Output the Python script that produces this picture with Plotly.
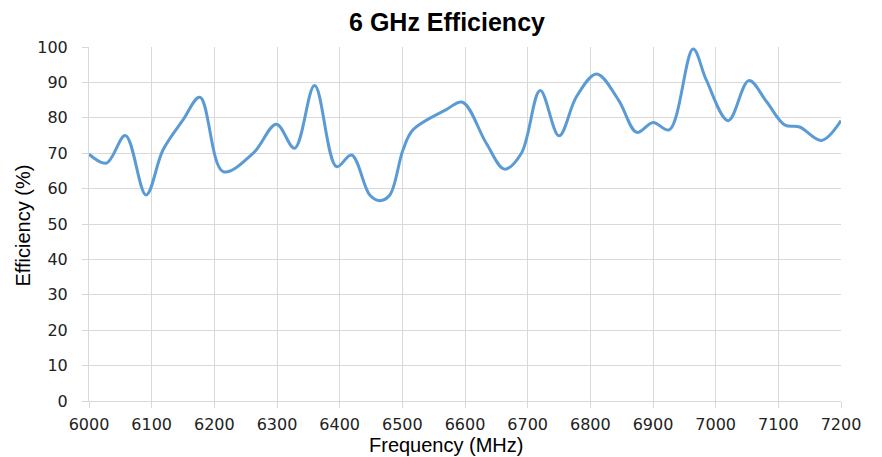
import plotly.graph_objects as go

freq_mhz = [6000, 6028, 6058, 6091, 6118, 6150, 6177, 6214, 6262, 6299, 6328, 6360,
            6395, 6419, 6448, 6464, 6480, 6501, 6517, 6570, 6596, 6634, 6663, 6690,
            6720, 6750, 6778, 6810, 6845, 6874, 6900, 6926, 6964, 6985, 7020, 7053,
            7081, 7110, 7134, 7169, 7200]
efficiency_pct = [69.7, 67.2, 75.0, 58.2, 70.9, 79.4, 85.8, 64.8, 70.0, 78.2, 71.4, 89.1,
                  66.2, 69.5, 58.2, 56.6, 58.2, 70.9, 76.6, 82.3, 84.4, 72.8, 65.5, 70.0,
                  87.7, 74.9, 86.0, 92.4, 85.0, 75.9, 78.7, 76.6, 99.4, 90.7, 79.2, 90.5,
                  84.6, 78.0, 77.4, 73.6, 79.2]
x_ticks = list(range(6000, 7201, 100))
y_ticks = list(range(0, 101, 10))
title_text = "6 GHz Efficiency"
x_title = "Frequency (MHz)"
y_title = "Efficiency (%)"

fig = go.Figure(go.Scatter(
    x=freq_mhz, y=efficiency_pct, mode="lines",
    line=dict(color="#5B9BD5", width=3, shape="spline", smoothing=1.0),
    hoverinfo="x+y"))

grid = "#d9d9d9"
font = "Liberation Sans, Arial, sans-serif"
tickfont = "DejaVu Sans, sans-serif"
fig.update_layout(
    width=874, height=449,
    margin=dict(l=81, r=41, t=39, b=56, autoexpand=False),
    paper_bgcolor="white", plot_bgcolor="white",
    showlegend=False,
    font=dict(family=font, color="#000"),
    title=dict(text="<b>" + title_text + "</b>", x=(447 - 8) / 874, xanchor="center",
               y=1 - 14 / 449, yanchor="middle", font=dict(size=25, family=font, color="#000")),
    xaxis=dict(range=[6000, 7200], tickvals=x_ticks, ticktext=[str(v) for v in x_ticks],
               showgrid=True, gridcolor=grid, gridwidth=1, zeroline=False,
               showline=True, linecolor=grid, linewidth=1,
               ticks="outside", ticklen=6, tickcolor=grid,
               tickfont=dict(size=16, color="#222", family=tickfont),
               ticklabelstandoff=3, automargin=False),
    yaxis=dict(range=[0, 100], tickvals=y_ticks,
               showgrid=True, gridcolor=grid, gridwidth=1, zeroline=False,
               showline=True, linecolor=grid, linewidth=1,
               ticks="outside", ticklen=6, tickcolor=grid,
               tickfont=dict(size=16, color="#222", family=tickfont),
               ticklabelstandoff=11, automargin=False),
    annotations=[
        dict(text=x_title, xref="paper", yref="paper", x=(446 - 89) / 752,
             y=-(445 - 401) / 354, xanchor="center", yanchor="middle",
             showarrow=False, font=dict(size=20, family=font, color="#000")),
        dict(text=y_title, xref="paper", yref="paper", x=(22.5 - 89) / 752,
             y=(401 - 226) / 354, xanchor="center", yanchor="middle", textangle=-90,
             showarrow=False, font=dict(size=20, family=font, color="#000")),
    ],
)
fig.write_html("out.html")
